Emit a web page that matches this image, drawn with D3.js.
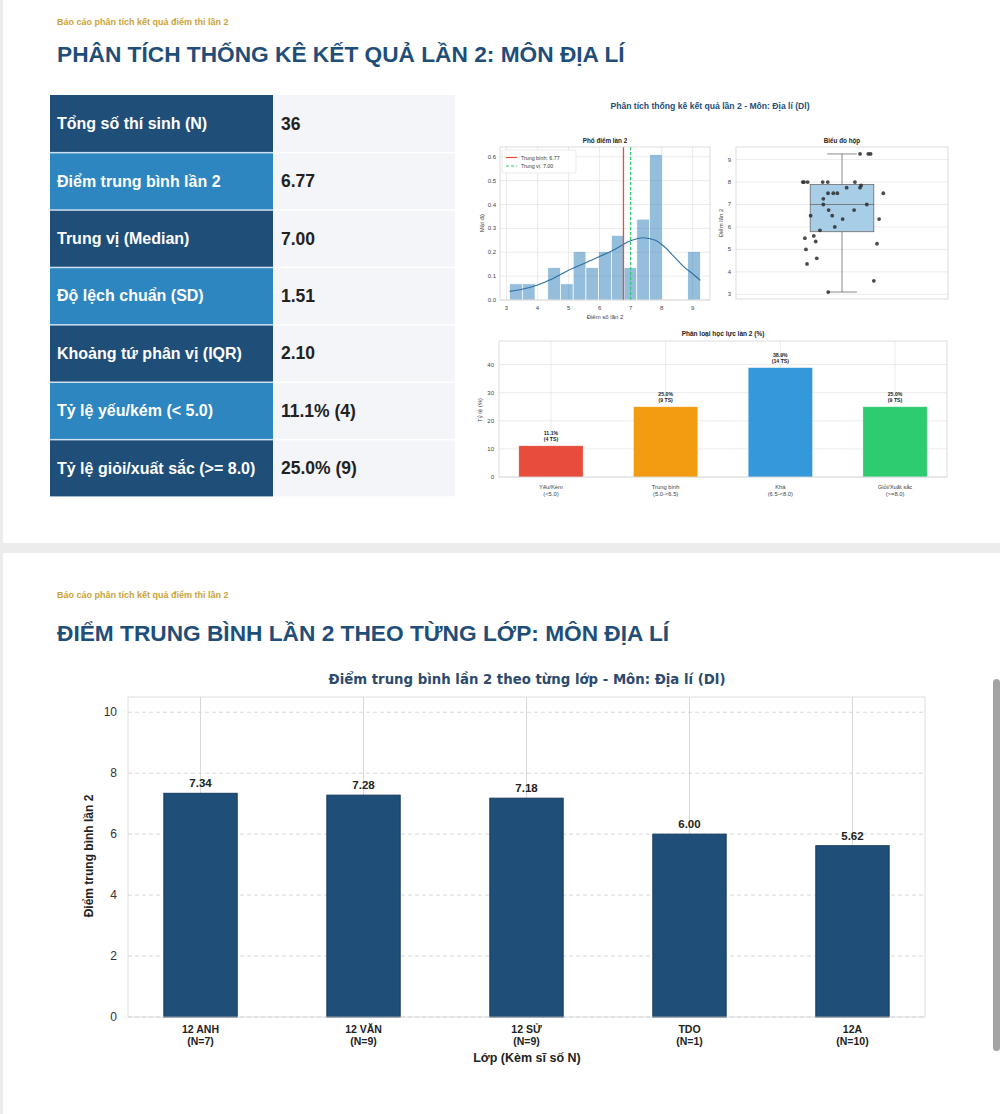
<!DOCTYPE html>
<html>
<head>
<meta charset="utf-8">
<script src="https://cdn.jsdelivr.net/npm/d3@7"></script>
<style>
  body { margin: 0; background: #efefef; overflow: hidden; }
  text { font-family: "Liberation Sans", Arial, sans-serif; }
</style>
</head>
<body>
<div id="page"></div>
<script>
// ---- data ----
var statLabels = ["Tổng số thí sinh (N)", "Điểm trung bình lần 2", "Trung vị (Median)",
  "Độ lệch chuẩn (SD)", "Khoảng tứ phân vị (IQR)", "Tỷ lệ yếu/kém (< 5.0)", "Tỷ lệ giỏi/xuất sắc (>= 8.0)"];
var statValues = ["36", "6.77", "7.00", "1.51", "2.10", "11.1% (4)", "25.0% (9)"];

// individual scores and their horizontal jitter
var scores = [9.25, 9.25, 9.25, 8, 8, 8, 8, 8, 8, 7.85, 7.75, 7.75, 7.5, 7.5, 7.5, 7.5, 7.25,
  7, 7, 6.75, 6.75, 6.5, 6.5, 6.35, 6.35, 6, 5.85, 5.6, 5.5, 5.35, 5.25, 5, 4.6, 4.35, 3.6, 3.1];
var jitter = [0.085, 0.124, 0.135, -0.185, -0.179, -0.162, -0.091, -0.067, 0.061, 0.09, 0.085, 0.022,
  -0.066, -0.041, -0.022, 0.195, -0.088, -0.088, 0.117, -0.063, 0.057, -0.148, -0.046, 0.003, 0.175,
  -0.034, -0.104, -0.133, -0.175, -0.124, 0.165, -0.17, -0.119, -0.165, 0.15, -0.065];

// density curve
var kdeX = [3.1, 3.5, 4.0, 4.5, 5.0, 5.5, 6.0, 6.5, 7.0, 7.4, 7.8, 8.1, 8.4, 8.7, 9.0, 9.25];
var kdeY = [0.036, 0.045, 0.063, 0.09, 0.125, 0.153, 0.182, 0.213, 0.248, 0.261, 0.25, 0.222, 0.182, 0.141, 0.11, 0.082];
var meanScore = 6.77;
var medianScore = 7.00;

var levelNames = ["Yếu/Kém", "Trung bình", "Khá", "Giỏi/Xuất sắc"];
var levelRanges = ["(<5.0)", "(5.0-<6.5)", "(6.5-<8.0)", "(>=8.0)"];
var levelPct = [11.1, 25.0, 38.9, 25.0];
var levelCount = [4, 9, 14, 9];
var levelColors = ["#e74c3c", "#f39c12", "#3498db", "#2ecc71"];

var classNames = ["12 ANH", "12 VĂN", "12 SỬ", "TDO", "12A"];
var classSizes = [7, 9, 9, 1, 10];
var classMeans = [7.34, 7.28, 7.18, 6.00, 5.62];

var navy = "#1f4e79";
var gold = "#c9a33a";
var gridCol = "#e3e3e3";

var svg = d3.select("#page").append("svg")
  .attr("width", 1000)
  .attr("height", 1114);

// page + cards
svg.append("rect").attr("width", 1000).attr("height", 1114).attr("fill", "#ececec");
svg.append("rect").attr("x", 3).attr("y", 0).attr("width", 997).attr("height", 543).attr("fill", "#fff");
svg.append("rect").attr("x", 3).attr("y", 553).attr("width", 997).attr("height", 561).attr("fill", "#fff");

// headings
function heading(y1, y2, title) {
  svg.append("text").attr("x", 57).attr("y", y1)
    .attr("font-size", 9).attr("font-weight", "bold").attr("fill", gold)
    .text("Báo cáo phân tích kết quả điểm thi lần 2");
  svg.append("text").attr("x", 57).attr("y", y2)
    .attr("font-size", 22.7).attr("font-weight", "bold").attr("fill", navy)
    .text(title);
}
heading(25, 62, "PHÂN TÍCH THỐNG KÊ KẾT QUẢ LẦN 2: MÔN ĐỊA LÍ");
heading(598, 641, "ĐIỂM TRUNG BÌNH LẦN 2 THEO TỪNG LỚP: MÔN ĐỊA LÍ");

// ---- stats table ----
var rowH = 57.4;
var rowY = d3.scaleBand().domain(d3.range(statLabels.length))
  .range([95, 95 + rowH * statLabels.length]);

var table = svg.append("g");
table.append("rect").attr("x", 50).attr("y", 95).attr("width", 223).attr("height", rowH * 7).attr("fill", "#cfe1f0");

var rows = table.selectAll("g.row").data(statLabels).enter().append("g").attr("class", "row");
rows.append("rect")
  .attr("x", 50).attr("y", (d, i) => rowY(i) + (i ? 1 : 0))
  .attr("width", 223).attr("height", (d, i) => rowH - (i ? 1.5 : 0.5))
  .attr("fill", (d, i) => i % 2 ? "#2e86c1" : navy);
rows.append("rect")
  .attr("x", 273).attr("y", (d, i) => rowY(i) + (i ? 1 : 0))
  .attr("width", 182).attr("height", (d, i) => rowH - (i ? 1.5 : 0.5))
  .attr("fill", "#f4f5f8");
rows.append("text")
  .attr("x", 57).attr("y", (d, i) => rowY(i) + rowH / 2 + 5.5)
  .attr("font-size", 16).attr("font-weight", "bold").attr("fill", "#fff")
  .text(d => d);
rows.append("text")
  .attr("x", 281).attr("y", (d, i) => rowY(i) + rowH / 2 + 6)
  .attr("font-size", 17.5).attr("font-weight", "bold").attr("fill", "#222")
  .text((d, i) => statValues[i]);

svg.append("text").attr("x", 710).attr("y", 109).attr("text-anchor", "middle")
  .attr("font-size", 8.6).attr("font-weight", "bold").attr("fill", navy)
  .text("Phân tích thống kê kết quả lần 2 - Môn: Địa lí (Dl)");

function frame(g, x0, x1, y0, y1) {
  g.append("rect").attr("x", x0).attr("y", y0).attr("width", x1 - x0).attr("height", y1 - y0)
    .attr("fill", "none").attr("stroke", "#cfcfcf").attr("stroke-width", 0.7);
}

// ---- histogram ----
var hist = svg.append("g");
var hx = d3.scaleLinear().domain([2.79, 9.56]).range([500, 710]);
var hy = d3.scaleLinear().domain([0, 0.641]).range([300, 147]);

hist.selectAll("line.gy").data(hy.ticks(6)).enter().append("line")
  .attr("x1", 500).attr("x2", 710).attr("y1", d => hy(d)).attr("y2", d => hy(d))
  .attr("stroke", gridCol).attr("stroke-width", 0.7);
hist.selectAll("line.gx").data(d3.range(3, 10)).enter().append("line")
  .attr("y1", 147).attr("y2", 300).attr("x1", d => hx(d)).attr("x2", d => hx(d))
  .attr("stroke", gridCol).attr("stroke-width", 0.7);

var sMin = d3.min(scores), sMax = d3.max(scores);
var binW = (sMax - sMin) / 15;
var bins = d3.bin().domain([sMin, sMax])
  .thresholds(d3.range(1, 15).map(i => sMin + i * binW))(scores);

hist.selectAll("rect.bar").data(bins.filter(b => b.length)).enter().append("rect")
  .attr("x", d => hx(d.x0)).attr("width", d => hx(d.x1) - hx(d.x0))
  .attr("y", d => hy(d.length / (scores.length * binW)))
  .attr("height", d => hy(0) - hy(d.length / (scores.length * binW)))
  .attr("fill", "#1f77b4").attr("fill-opacity", 0.48)
  .attr("stroke", "#fff").attr("stroke-width", 0.7);

hist.append("path")
  .datum(kdeX.map((x, i) => [x, kdeY[i]]))
  .attr("d", d3.line().x(d => hx(d[0])).y(d => hy(d[1])).curve(d3.curveMonotoneX))
  .attr("fill", "none").attr("stroke", "#2f6fa3").attr("stroke-width", 1.1);

hist.append("line").attr("x1", hx(meanScore)).attr("x2", hx(meanScore)).attr("y1", 147).attr("y2", 300)
  .attr("stroke", "#e74c3c").attr("stroke-width", 1.3);
hist.append("line").attr("x1", hx(medianScore)).attr("x2", hx(medianScore)).attr("y1", 147).attr("y2", 300)
  .attr("stroke", "#2ecc71").attr("stroke-width", 1.3).attr("stroke-dasharray", "3,2");

frame(hist, 500, 710, 147, 300);

var legend = hist.append("g");
legend.append("rect").attr("x", 502).attr("y", 150).attr("width", 74).attr("height", 23).attr("rx", 1)
  .attr("fill", "#fff").attr("fill-opacity", 0.85).attr("stroke", "#ddd").attr("stroke-width", 0.6);
legend.append("line").attr("x1", 506).attr("x2", 517).attr("y1", 157.5).attr("y2", 157.5)
  .attr("stroke", "#e74c3c").attr("stroke-width", 1.2);
legend.append("line").attr("x1", 506).attr("x2", 517).attr("y1", 166).attr("y2", 166)
  .attr("stroke", "#2ecc71").attr("stroke-width", 1.2).attr("stroke-dasharray", "3,2");
legend.append("text").attr("x", 521).attr("y", 159.5).attr("font-size", 5.3).attr("fill", "#333")
  .text("Trung bình: " + meanScore.toFixed(2));
legend.append("text").attr("x", 521).attr("y", 168).attr("font-size", 5.3).attr("fill", "#333")
  .text("Trung vị: " + medianScore.toFixed(2));

hist.selectAll("text.ty").data(hy.ticks(6)).enter().append("text")
  .attr("x", 496).attr("y", d => hy(d) + 2).attr("text-anchor", "end")
  .attr("font-size", 6).attr("fill", "#444").text(d => d.toFixed(1));
hist.selectAll("text.tx").data(d3.range(3, 10)).enter().append("text")
  .attr("x", d => hx(d)).attr("y", 310).attr("text-anchor", "middle")
  .attr("font-size", 6).attr("fill", "#444").text(d => d);
hist.append("text").attr("x", 605).attr("y", 143).attr("text-anchor", "middle")
  .attr("font-size", 6.3).attr("font-weight", "bold").attr("fill", "#222").text("Phổ điểm lần 2");
hist.append("text").attr("x", 605).attr("y", 319).attr("text-anchor", "middle")
  .attr("font-size", 6).attr("fill", "#444").text("Điểm số lần 2");
hist.append("text").attr("transform", "translate(484,223) rotate(-90)").attr("text-anchor", "middle")
  .attr("font-size", 6).attr("fill", "#444").text("Mật độ");

// ---- box plot ----
var box = svg.append("g");
var bx = d3.scaleLinear().domain([-0.5, 0.5]).range([736, 948]);
var by = d3.scaleLinear().domain([2.79, 9.56]).range([299, 147]);

box.selectAll("line.gy").data(d3.range(3, 10)).enter().append("line")
  .attr("x1", 736).attr("x2", 948).attr("y1", d => by(d)).attr("y2", d => by(d))
  .attr("stroke", gridCol).attr("stroke-width", 0.7);

var sorted = scores.slice().sort(d3.ascending);
var q1 = d3.quantileSorted(sorted, 0.25);
var q2 = d3.quantileSorted(sorted, 0.5);
var q3 = d3.quantileSorted(sorted, 0.75);
var iqr = q3 - q1;
var wLo = d3.min(sorted.filter(v => v >= q1 - 1.5 * iqr));
var wHi = d3.max(sorted.filter(v => v <= q3 + 1.5 * iqr));

var boxStroke = "#6b6b6b";
box.append("line").attr("x1", bx(0)).attr("x2", bx(0)).attr("y1", by(q3)).attr("y2", by(wHi))
  .attr("stroke", boxStroke).attr("stroke-width", 0.8);
box.append("line").attr("x1", bx(0)).attr("x2", bx(0)).attr("y1", by(q1)).attr("y2", by(wLo))
  .attr("stroke", boxStroke).attr("stroke-width", 0.8);
box.selectAll("line.cap").data([wLo, wHi]).enter().append("line")
  .attr("x1", bx(-0.07)).attr("x2", bx(0.07)).attr("y1", d => by(d)).attr("y2", d => by(d))
  .attr("stroke", boxStroke).attr("stroke-width", 0.8);
box.append("rect").attr("x", bx(-0.15)).attr("width", bx(0.15) - bx(-0.15))
  .attr("y", by(q3)).attr("height", by(q1) - by(q3))
  .attr("fill", "#a8cde6").attr("stroke", boxStroke).attr("stroke-width", 0.8);
box.append("line").attr("x1", bx(-0.15)).attr("x2", bx(0.15)).attr("y1", by(q2)).attr("y2", by(q2))
  .attr("stroke", boxStroke).attr("stroke-width", 0.8);

box.selectAll("circle").data(scores).enter().append("circle")
  .attr("cx", (d, i) => bx(jitter[i])).attr("cy", d => by(d)).attr("r", 1.9)
  .attr("fill", "#2b2b2b").attr("fill-opacity", 0.85);

frame(box, 736, 948, 147, 299);

box.selectAll("text.ty").data(d3.range(3, 10)).enter().append("text")
  .attr("x", 731).attr("y", d => by(d) + 2).attr("text-anchor", "end")
  .attr("font-size", 6).attr("fill", "#444").text(d => d);
box.append("text").attr("x", 842).attr("y", 143).attr("text-anchor", "middle")
  .attr("font-size", 6.3).attr("font-weight", "bold").attr("fill", "#222").text("Biểu đồ hộp");
box.append("text").attr("transform", "translate(723,223) rotate(-90)").attr("text-anchor", "middle")
  .attr("font-size", 6).attr("fill", "#444").text("Điểm lần 2");

// ---- level bar chart ----
var lev = svg.append("g");
var cx = d3.scaleLinear().domain([-0.453, 3.453]).range([499, 947]);
var cy = d3.scaleLinear().domain([0, 48.4]).range([477, 341]);

lev.selectAll("line.gy").data([0, 10, 20, 30, 40]).enter().append("line")
  .attr("x1", 499).attr("x2", 947).attr("y1", d => cy(d)).attr("y2", d => cy(d))
  .attr("stroke", gridCol).attr("stroke-width", 0.7);
lev.selectAll("line.gx").data(d3.range(levelNames.length)).enter().append("line")
  .attr("y1", 341).attr("y2", 477).attr("x1", d => cx(d)).attr("x2", d => cx(d))
  .attr("stroke", gridCol).attr("stroke-width", 0.7);

lev.selectAll("rect.bar").data(levelPct).enter().append("rect")
  .attr("x", (d, i) => cx(i - 0.28)).attr("width", cx(0.28) - cx(-0.28))
  .attr("y", d => cy(d)).attr("height", d => cy(0) - cy(d))
  .attr("fill", (d, i) => levelColors[i])
  .attr("stroke", "#ffffff").attr("stroke-opacity", 0.5).attr("stroke-width", 0.6);

lev.selectAll("text.v1").data(levelPct).enter().append("text")
  .attr("x", (d, i) => cx(i)).attr("y", d => cy(d) - 11).attr("text-anchor", "middle")
  .attr("font-size", 5.2).attr("font-weight", "bold").attr("fill", "#222")
  .text(d => d.toFixed(1) + "%");
lev.selectAll("text.v2").data(levelPct).enter().append("text")
  .attr("x", (d, i) => cx(i)).attr("y", d => cy(d) - 5).attr("text-anchor", "middle")
  .attr("font-size", 5.2).attr("font-weight", "bold").attr("fill", "#222")
  .text((d, i) => "(" + levelCount[i] + " TS)");

frame(lev, 499, 947, 341, 477);

lev.selectAll("text.ty").data([0, 10, 20, 30, 40]).enter().append("text")
  .attr("x", 494).attr("y", d => cy(d) + 2).attr("text-anchor", "end")
  .attr("font-size", 6).attr("fill", "#444").text(d => d);
lev.selectAll("text.tx1").data(levelNames).enter().append("text")
  .attr("x", (d, i) => cx(i)).attr("y", 489).attr("text-anchor", "middle")
  .attr("font-size", 5.8).attr("fill", "#444").text(d => d);
lev.selectAll("text.tx2").data(levelRanges).enter().append("text")
  .attr("x", (d, i) => cx(i)).attr("y", 496).attr("text-anchor", "middle")
  .attr("font-size", 5.8).attr("fill", "#444").text(d => d);
lev.append("text").attr("x", 723).attr("y", 336).attr("text-anchor", "middle")
  .attr("font-size", 6.5).attr("font-weight", "bold").attr("fill", "#222").text("Phân loại học lực lần 2 (%)");
lev.append("text").attr("transform", "translate(482,410) rotate(-90)").attr("text-anchor", "middle")
  .attr("font-size", 6).attr("fill", "#444").text("Tỷ lệ (%)");

// ---- class means chart ----
var cls = svg.append("g");
var lx = d3.scaleLinear().domain([-0.445, 4.445]).range([128, 925]);
var ly = d3.scaleLinear().domain([0, 10.5]).range([1017, 697]);
var yTicks = [0, 2, 4, 6, 8, 10];

cls.selectAll("line.gy").data(yTicks).enter().append("line")
  .attr("x1", 128).attr("x2", 925).attr("y1", d => ly(d)).attr("y2", d => ly(d))
  .attr("stroke", "#d8d8d8").attr("stroke-width", 1).attr("stroke-dasharray", "4,3");
cls.selectAll("line.gx").data(d3.range(classNames.length)).enter().append("line")
  .attr("y1", 697).attr("y2", 1017).attr("x1", d => lx(d)).attr("x2", d => lx(d))
  .attr("stroke", "#d8d8d8").attr("stroke-width", 1);

cls.selectAll("rect.bar").data(classMeans).enter().append("rect")
  .attr("x", (d, i) => lx(i - 0.225)).attr("width", lx(0.225) - lx(-0.225))
  .attr("y", d => ly(d)).attr("height", d => ly(0) - ly(d))
  .attr("fill", navy).attr("stroke", "#163a5c").attr("stroke-width", 1);

cls.selectAll("text.val").data(classMeans).enter().append("text")
  .attr("x", (d, i) => lx(i)).attr("y", d => ly(d) - 6).attr("text-anchor", "middle")
  .attr("font-size", 11.5).attr("font-weight", "bold").attr("fill", "#222")
  .text(d => d.toFixed(2));

frame(cls, 128, 925, 697, 1017);

cls.selectAll("text.ty").data(yTicks).enter().append("text")
  .attr("x", 117).attr("y", d => ly(d) + 4).attr("text-anchor", "end")
  .attr("font-size", 12).attr("fill", "#333").text(d => d);
cls.selectAll("text.tx1").data(classNames).enter().append("text")
  .attr("x", (d, i) => lx(i)).attr("y", 1033).attr("text-anchor", "middle")
  .attr("font-size", 10.5).attr("font-weight", "bold").attr("fill", "#222").text(d => d);
cls.selectAll("text.tx2").data(classSizes).enter().append("text")
  .attr("x", (d, i) => lx(i)).attr("y", 1045).attr("text-anchor", "middle")
  .attr("font-size", 10.5).attr("font-weight", "bold").attr("fill", "#222").text(d => "(N=" + d + ")");
cls.append("text").attr("x", 527).attr("y", 1062).attr("text-anchor", "middle")
  .attr("font-size", 12.5).attr("font-weight", "bold").attr("fill", "#222").text("Lớp (Kèm sĩ số N)");
cls.append("text").attr("transform", "translate(93,856) rotate(-90)").attr("text-anchor", "middle")
  .attr("font-size", 12).attr("font-weight", "bold").attr("fill", "#222").text("Điểm trung bình lần 2");
cls.append("text").attr("x", 527).attr("y", 684).attr("text-anchor", "middle")
  .style("font-family", "'DejaVu Sans', sans-serif")
  .attr("font-size", 13.3).attr("font-weight", "bold").attr("fill", "#2c4a6e")
  .text("Điểm trung bình lần 2 theo từng lớp - Môn: Địa lí (Dl)");

// scrollbar of the screenshot
svg.append("rect").attr("x", 993).attr("y", 679).attr("width", 7).attr("height", 372).attr("rx", 3.5)
  .attr("fill", "#a3a3a3");
</script>
</body>
</html>
